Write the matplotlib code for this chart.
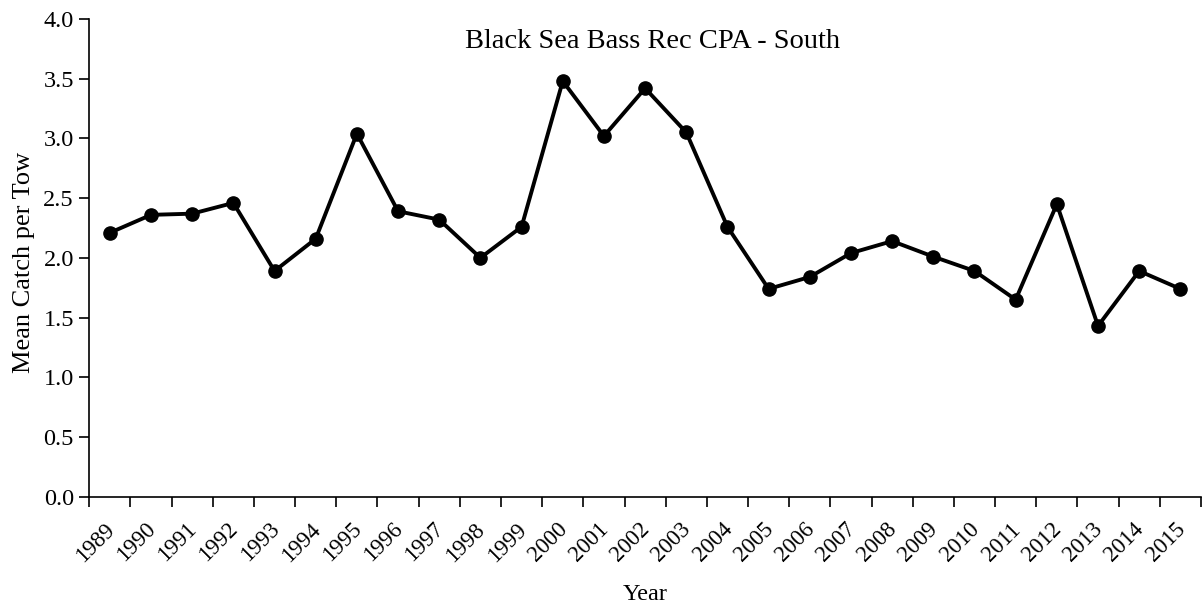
import matplotlib.pyplot as plt
import matplotlib.transforms as mtransforms
from matplotlib.ticker import FixedLocator

# Black Sea Bass Rec CPA - South
years = [1989, 1990, 1991, 1992, 1993, 1994, 1995, 1996, 1997, 1998, 1999,
         2000, 2001, 2002, 2003, 2004, 2005, 2006, 2007, 2008, 2009, 2010,
         2011, 2012, 2013, 2014, 2015]
catch = [2.21, 2.36, 2.37, 2.46, 1.89, 2.16, 3.04, 2.39, 2.32, 2.00, 2.26,
         3.48, 3.02, 3.42, 3.05, 2.26, 1.74, 1.84, 2.04, 2.14, 2.01, 1.89,
         1.65, 2.45, 1.43, 1.89, 1.74]

plt.rcParams['font.family'] = ['Liberation Serif', 'DejaVu Serif']

fig = plt.figure(figsize=(12.03, 6.09), dpi=100)
ax = fig.add_axes([0.0742, 0.1844, 0.9241, 0.7844])

x = list(range(len(years)))
ax.plot(x, catch, color='black', linewidth=2.8, marker='o', markersize=9.5)

ax.set_xlim(-0.5, len(years) - 0.5)
ax.set_ylim(0, 4)
ax.set_yticks([0, 0.5, 1.0, 1.5, 2.0, 2.5, 3.0, 3.5, 4.0])
ax.set_yticklabels(['%.1f' % v for v in ax.get_yticks()], fontsize=17.5)

ax.set_xticks(x)
ax.set_xticklabels([str(y) for y in years], rotation=45, ha='right',
                   rotation_mode='anchor', fontsize=16.5)
ax.tick_params(axis='x', which='major', length=0, pad=16)
ax.xaxis.set_minor_locator(FixedLocator([i - 0.5 for i in range(len(years) + 1)]))
ax.tick_params(axis='x', which='minor', length=7.5, width=1.2, direction='out')
ax.tick_params(axis='y', length=7, width=1.2, direction='out', pad=4)

# nudge the rotated year labels a little to the left, like Excel does
shift = mtransforms.ScaledTranslation(-6 / 100, 0, fig.dpi_scale_trans)
for lab in ax.get_xticklabels():
    lab.set_transform(lab.get_transform() + shift)

for s in ['top', 'right']:
    ax.spines[s].set_visible(False)
for s in ['left', 'bottom']:
    ax.spines[s].set_linewidth(1.2)

ax.set_ylabel('Mean Catch per Tow', fontsize=19)
ax.yaxis.set_label_coords(-0.049, 0.49)
ax.set_xlabel('Year', fontsize=17.5)
ax.xaxis.set_label_coords(0.5, -0.183)
ax.text(653 / 1203, 1 - 48 / 609, 'Black Sea Bass Rec CPA - South',
        transform=fig.transFigure, ha='center', va='baseline', fontsize=20.5)

fig.savefig('out.png', dpi=100)
